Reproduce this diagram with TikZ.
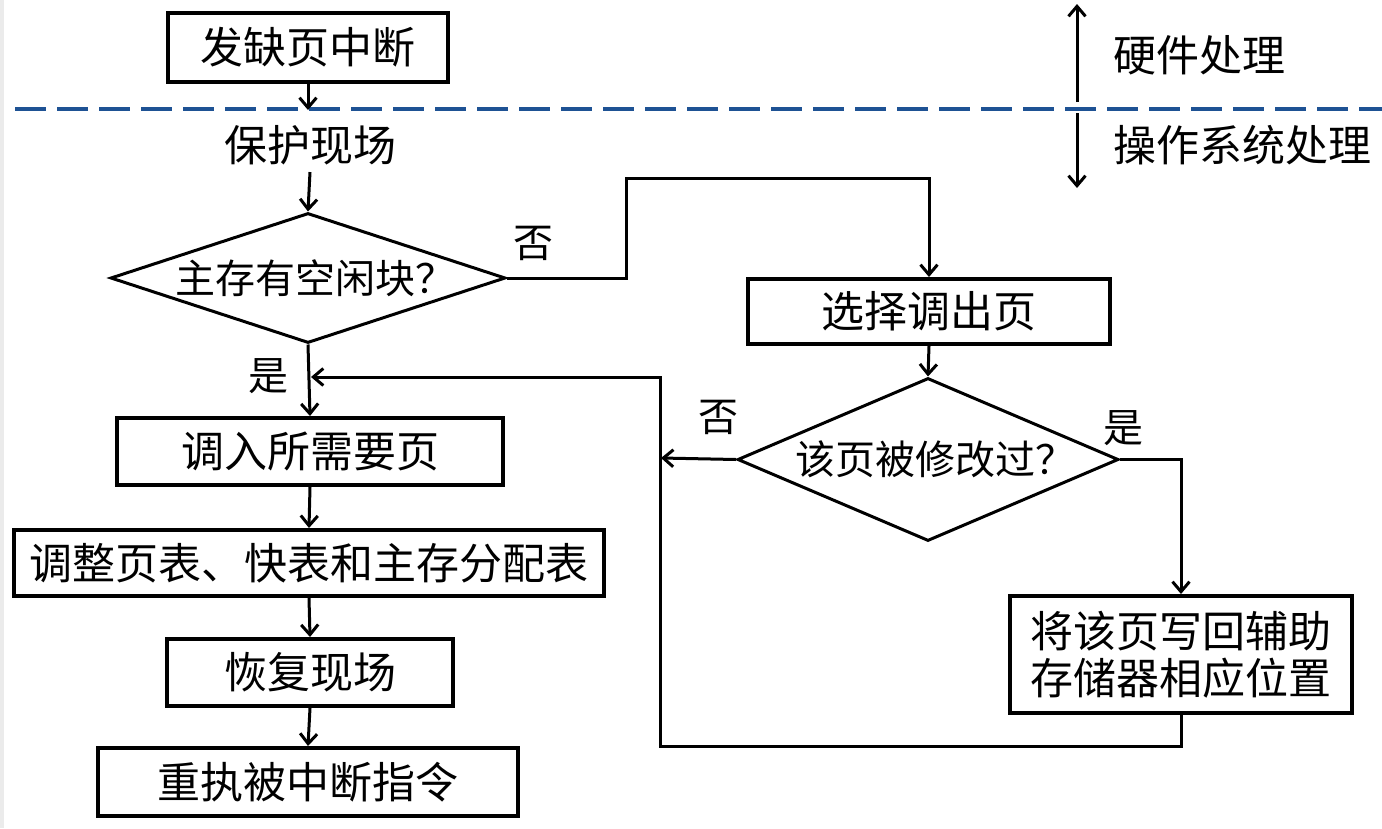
\documentclass[tikz,border=0pt]{standalone}
\usepackage{fontspec}
\setmainfont{Noto Sans CJK SC}
\usetikzlibrary{arrows.meta,shapes.geometric}
\definecolor{dashblue}{RGB}{30,82,148}
\definecolor{edgegray}{RGB}{235,235,235}
\begin{document}
\begin{tikzpicture}[x=1pt,y=-1pt,
  every node/.style={font=\fontsize{43pt}{47pt}\selectfont},
  box/.style={draw, line width=4pt, inner sep=0pt, align=center},
  dia/.style={draw, diamond, line width=3pt, inner sep=0pt, font=\fontsize{40pt}{44pt}\selectfont},
  arr/.style={line width=3pt, -{Straight Barb[length=10pt,width=17pt]}},
  lbl/.style={font=\fontsize{40pt}{42pt}\selectfont, inner sep=0pt}
]
\useasboundingbox (0,0) rectangle (1382,828);
\fill[white] (0,0) rectangle (1382,828);
\fill[edgegray] (0,0) rectangle (4,828);

% dashed separator
\draw[dashblue, line width=4pt, dash pattern=on 31pt off 11pt] (15,109) -- (1382,109);

% nodes
\node[box, minimum width=280pt, minimum height=69pt] (int) at (308,47.5) {发缺页中断};
\node[inner sep=7pt] (prot) at (310,145) {保护现场};
\node[dia, minimum width=395pt, minimum height=130pt, shape aspect=3] (d1) at (308,278) {\makebox[0pt][c]{\hspace*{14pt}主存有空闲块？}};
\node[box, minimum width=362pt, minimum height=65pt] (sel) at (929,311.5) {选择调出页};
\node[dia, minimum width=381pt, minimum height=163pt, shape aspect=2.34] (d2) at (928,459.5) {\makebox[0pt][c]{\hspace*{14pt}该页被修改过？}};
\node[box, minimum width=342pt, minimum height=117pt] (wb) at (1181,654.5) {将该页写回辅助\\存储器相应位置};
\node[box, minimum width=386pt, minimum height=67pt] (load) at (310,451.5) {调入所需要页};
\node[box, minimum width=590pt, minimum height=66pt] (adj) at (309,563) {调整页表、快表和主存分配表};
\node[box, minimum width=286pt, minimum height=67pt] (rest) at (310,672.5) {恢复现场};
\node[box, minimum width=420pt, minimum height=68pt] (redo) at (308,782) {重执被中断指令};

% side labels
\node[anchor=west, inner sep=0pt] (hw) at (1113,55) {硬件处理};
\node[anchor=west, inner sep=0pt] (os) at (1113,145) {操作系统处理};

% branch labels
\node[lbl] (no1) at (533,243) {否};
\node[lbl] (yes1) at (268,376) {是};
\node[lbl] (no2) at (718,417) {否};
\node[lbl] (yes2) at (1123,428) {是};

% coordinates
\coordinate (dl) at (310,110);
\coordinate (k1) at (626,278);
\coordinate (k2) at (626,178);
\coordinate (mj) at (311,377);
\coordinate (lb) at (660,746);
\coordinate (lt) at (660,377);
\coordinate (lx) at (661,458);
\coordinate (hb) at (1077,102);
\coordinate (ht) at (1077,4);
\coordinate (ot) at (1077,113);
\coordinate (ob) at (1077,188);

% connectors
\draw[arr] (int.south) -- (int.south |- dl);
\draw[arr] (prot.south) -- (d1.north);
\draw[arr] (d1.south) -- (load.north);
\draw[arr] (d1.east) -- (k1) -- (k2) -| (sel.north);
\draw[arr] (sel.south) -- (d2.north);
\draw[arr] (d2.east) -| (wb.north);
\draw[arr] (d2.west) -- (lx);
\draw[arr] (wb.south) |- (lb) -- (lt) -- (mj);
\draw[arr] (load.south) -- (adj.north);
\draw[arr] (adj.south) -- (rest.north);
\draw[arr] (rest.south) -- (redo.north);
\draw[arr] (hb) -- (ht);
\draw[arr] (ot) -- (ob);
\end{tikzpicture}
\end{document}
